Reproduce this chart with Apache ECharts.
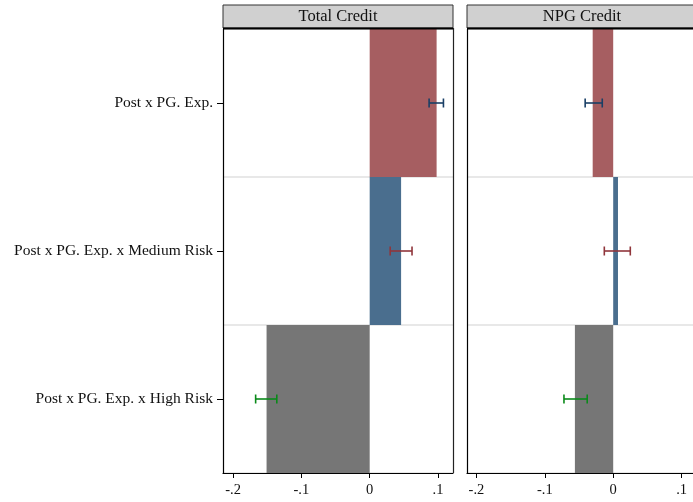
<!DOCTYPE html>
<html><head><meta charset="utf-8">
<script src="https://cdn.jsdelivr.net/npm/echarts@6/dist/echarts.min.js"></script>
<style>html,body{margin:0;padding:0;background:#fff}#c{width:693px;height:502px}</style>
</head><body><div id="c"></div>
<script>
const categories = ["Post x PG. Exp.", "Post x PG. Exp. x Medium Risk", "Post x PG. Exp. x High Risk"];
const panelTitles = ["Total Credit", "NPG Credit"];
const totalCoef = [0.098, 0.046, -0.151];
const totalLo = [0.087, 0.030, -0.167];
const totalHi = [0.108, 0.062, -0.136];
const npgCoef = [-0.030, 0.007, -0.056];
const npgLo = [-0.041, -0.013, -0.072];
const npgHi = [-0.016, 0.025, -0.038];
const xTicks = [-0.2, -0.1, 0, 0.1];

const barColors = ["#a65e61", "#4a6e8e", "#767676"];
const ciColors = ["#1a3f66", "#90353b", "#0a8a1a"];
const FONT = "'Liberation Serif', 'DejaVu Serif', serif";

const chart = echarts.init(document.getElementById('c'));
const grids = [
  {left: 223, top: 29, width: 230, height: 444},
  {left: 467, top: 29, width: 226, height: 444}
];
const ranges = [[-0.2148, 0.122], [-0.2138, 0.1167]];
function xAxis(i){
  return {gridIndex:i, type:'value', min:ranges[i][0], max:ranges[i][1],
    axisLine:{show:true, onZero:false, lineStyle:{color:'#000', width:1.2}},
    axisTick:{show:true, length:5, lineStyle:{color:'#000'}, customValues: xTicks},
    axisLabel:{color:'#111', fontFamily:FONT, fontSize:14.5, margin:10, customValues: xTicks,
      formatter: v => { const r = Math.round(v*10)/10; if (r===0) return '0'; return (r<0?'-':'') + String(Math.abs(r)).replace(/^0/, ''); }},
    splitLine:{show:false}};
}
function yAxis(i){
  return {gridIndex:i, type:'category', data:categories, inverse:true,
    axisLine:{show:true, onZero:false, lineStyle:{color:'#000', width:1.2}},
    axisTick:{show:i===0, alignWithLabel:true, length:6, lineStyle:{color:'#000'}},
    axisLabel:{show:i===0, color:'#111', fontFamily:FONT, fontSize:15.5, margin:10},
    splitLine:{show:true, interval:0, lineStyle:{color:'#e0e0e0', width:1.5}}};
}
function bars(i, vals){
  return {type:'bar', xAxisIndex:i, yAxisIndex:i, barWidth:'100%', silent:true,
    data: vals.map((v,k)=>({value:v, itemStyle:{color:barColors[k]}})), z:2};
}
function ci(i, lo, hi){
  return {type:'custom', xAxisIndex:i, yAxisIndex:i, z:5, silent:true,
    data: lo.map((l,k)=>[k, l, hi[k]]),
    encode:{x:[1,2], y:0},
    renderItem:(params, api)=>{
      const k = api.value(0);
      const a = api.coord([api.value(1), k]);
      const b = api.coord([api.value(2), k]);
      const h = 4.5;
      const st = {stroke: ciColors[k], lineWidth: 1.6};
      return {type:'group', children:[
        {type:'line', shape:{x1:a[0], y1:a[1], x2:b[0], y2:b[1]}, style:st},
        {type:'line', shape:{x1:a[0], y1:a[1]-h, x2:a[0], y2:a[1]+h}, style:st},
        {type:'line', shape:{x1:b[0], y1:b[1]-h, x2:b[0], y2:b[1]+h}, style:st}
      ]};
    }};
}
const graphics = [];
const headW = [230, 236];
grids.forEach((g,i)=>{
  graphics.push({type:'rect', shape:{x:g.left, y:5, width:headW[i], height:23},
    style:{fill:'#d0d0d0', stroke:'#333', lineWidth:1}, z:10});
  graphics.push({type:'line', shape:{x1:g.left, y1:28.5, x2:g.left+headW[i], y2:28.5},
    style:{stroke:'#000', lineWidth:2}, z:11});
  graphics.push({type:'text', x:g.left+115, y:16.5,
    style:{text:panelTitles[i], fontFamily:FONT, fontSize:16.5, fill:'#111', align:'center', verticalAlign:'middle'}, z:12});
});
graphics.push({type:'line', shape:{x1:453.5, y1:28, x2:453.5, y2:473},
  style:{stroke:'#222', lineWidth:1.2}, z:11});
chart.setOption({
  animation:false,
  grid: grids,
  xAxis: [xAxis(0), xAxis(1)],
  yAxis: [yAxis(0), yAxis(1)],
  series: [bars(0,totalCoef), bars(1,npgCoef), ci(0,totalLo,totalHi), ci(1,npgLo,npgHi)],
  graphic: graphics
});
</script></body></html>
